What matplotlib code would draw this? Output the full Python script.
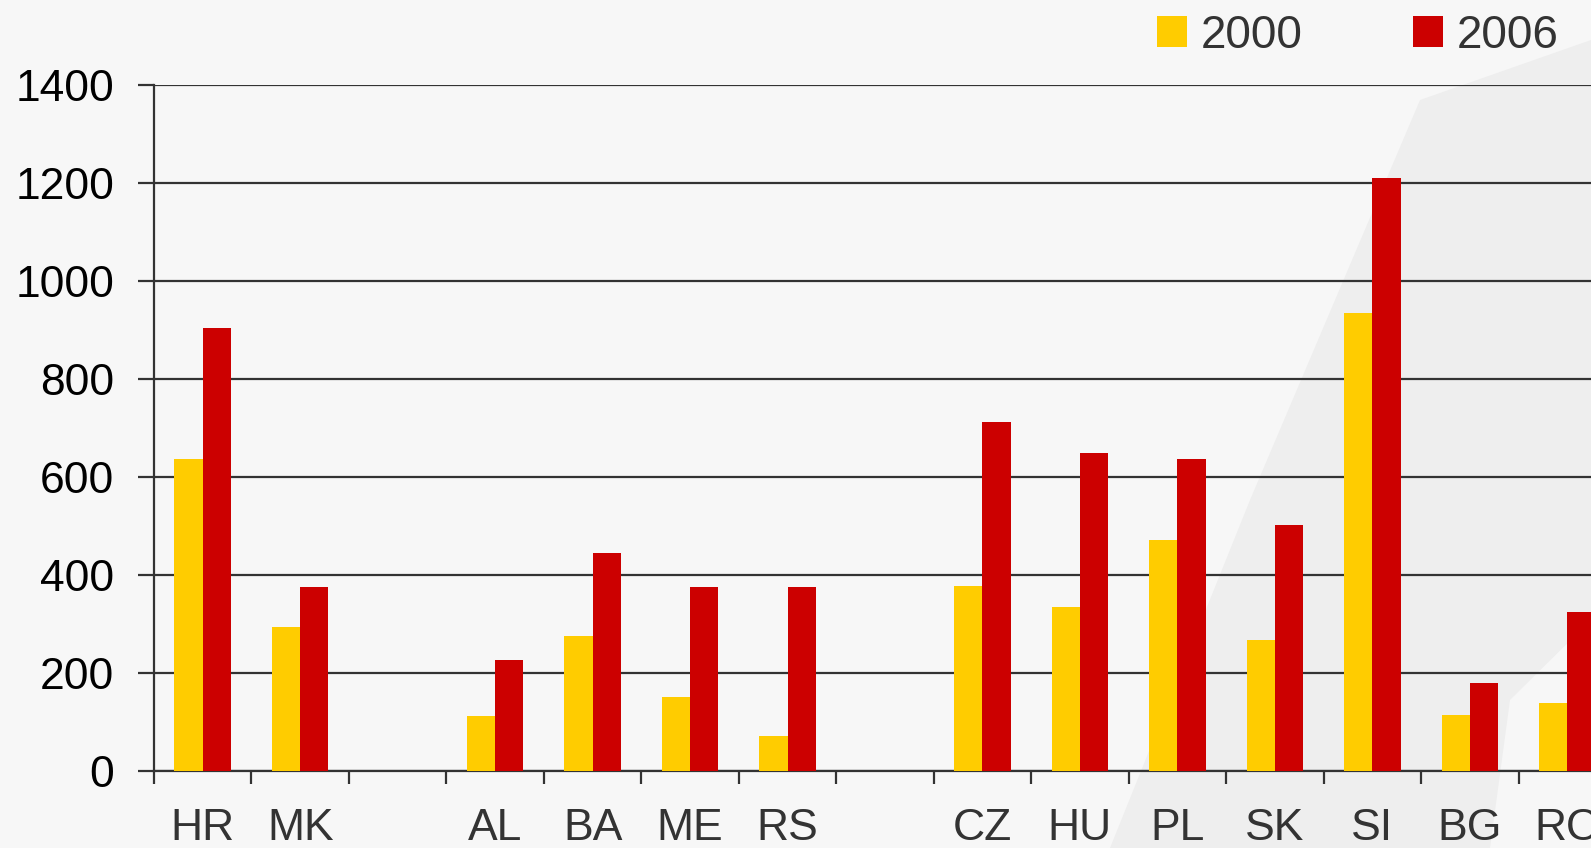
import numpy as np
import matplotlib
matplotlib.use("Agg")
import matplotlib.pyplot as plt
from matplotlib.patches import Polygon

plt.rcParams['font.family'] = ['Liberation Sans', 'DejaVu Sans']

# data (empty strings are the gaps between groups)
countries = ['HR', 'MK', '', 'AL', 'BA', 'ME', 'RS', '', 'CZ', 'HU', 'PL', 'SK', 'SI', 'BG', 'RO']
vals_2000 = [636, 293, np.nan, 112, 276, 152, 71, np.nan, 378, 334, 471, 268, 935, 114, 139]
vals_2006 = [904, 376, np.nan, 226, 445, 376, 376, np.nan, 712, 648, 636, 503, 1211, 179, 324]
yticks = [0, 200, 400, 600, 800, 1000, 1200, 1400]

W, H = 1591, 848
fig = plt.figure(figsize=(W / 100, H / 100), dpi=100, facecolor='#f7f7f7')

# faint swoosh in the background, on its own axes behind everything
bg = fig.add_axes([0, 0, 1, 1], zorder=-1)
bg.set_xlim(0, W)
bg.set_ylim(H, 0)
bg.axis('off')
bg.add_patch(Polygon([(1110, H), (1250, 500), (1420, 100), (W, 40), (W, 620),
                      (1510, 700), (1490, H)], closed=True,
                     facecolor='#eeeeee', edgecolor='none'))

# axes run past the right edge, like the original
ax = fig.add_axes([154 / W, 77 / H, 1462 / W, 686 / H])
ax.set_facecolor('none')

x = np.arange(len(countries))
bw = 0.29
b1 = ax.bar(x - bw / 2, vals_2000, bw, color='#ffcc00', zorder=3, label='2000')
b2 = ax.bar(x + bw / 2, vals_2006, bw, color='#cc0000', zorder=3, label='2006')

ax.set_xlim(-0.5, len(countries) - 0.5)
ax.set_ylim(0, 1400)
ax.set_yticks(yticks)
ax.yaxis.grid(True, color='#333333', linewidth=1.6, zorder=1)
ax.set_axisbelow(True)

ax.set_xticks(np.arange(-0.5, len(countries), 1.0))
ax.set_xticklabels([])
ax.set_xticks(x, minor=True)
ax.set_xticklabels(countries, minor=True, color='#333333', fontsize=32)
ax.tick_params(axis='x', which='major', direction='out', length=9, width=1.6, color='#333333')
ax.tick_params(axis='x', which='minor', length=0, pad=27)
ax.tick_params(axis='y', direction='out', length=11.5, width=1.6, color='#333333',
               pad=17, labelsize=32, labelcolor='black')

for s in ['top', 'right']:
    ax.spines[s].set_visible(False)
for s in ['left', 'bottom']:
    ax.spines[s].set_color('#333333')
    ax.spines[s].set_linewidth(1.6)

fig.legend(handles=[b1, b2], labels=['2000', '2006'], ncol=2, loc='upper left',
           bbox_to_anchor=(1157 / W, 1 - 14 / H), frameon=False, fontsize=33,
           handlelength=0.66, handleheight=0.66, handletextpad=0.3,
           columnspacing=2.4, borderpad=0, borderaxespad=0,
           labelcolor='#333333')

fig.savefig('out.png', dpi=100, facecolor=fig.get_facecolor())
